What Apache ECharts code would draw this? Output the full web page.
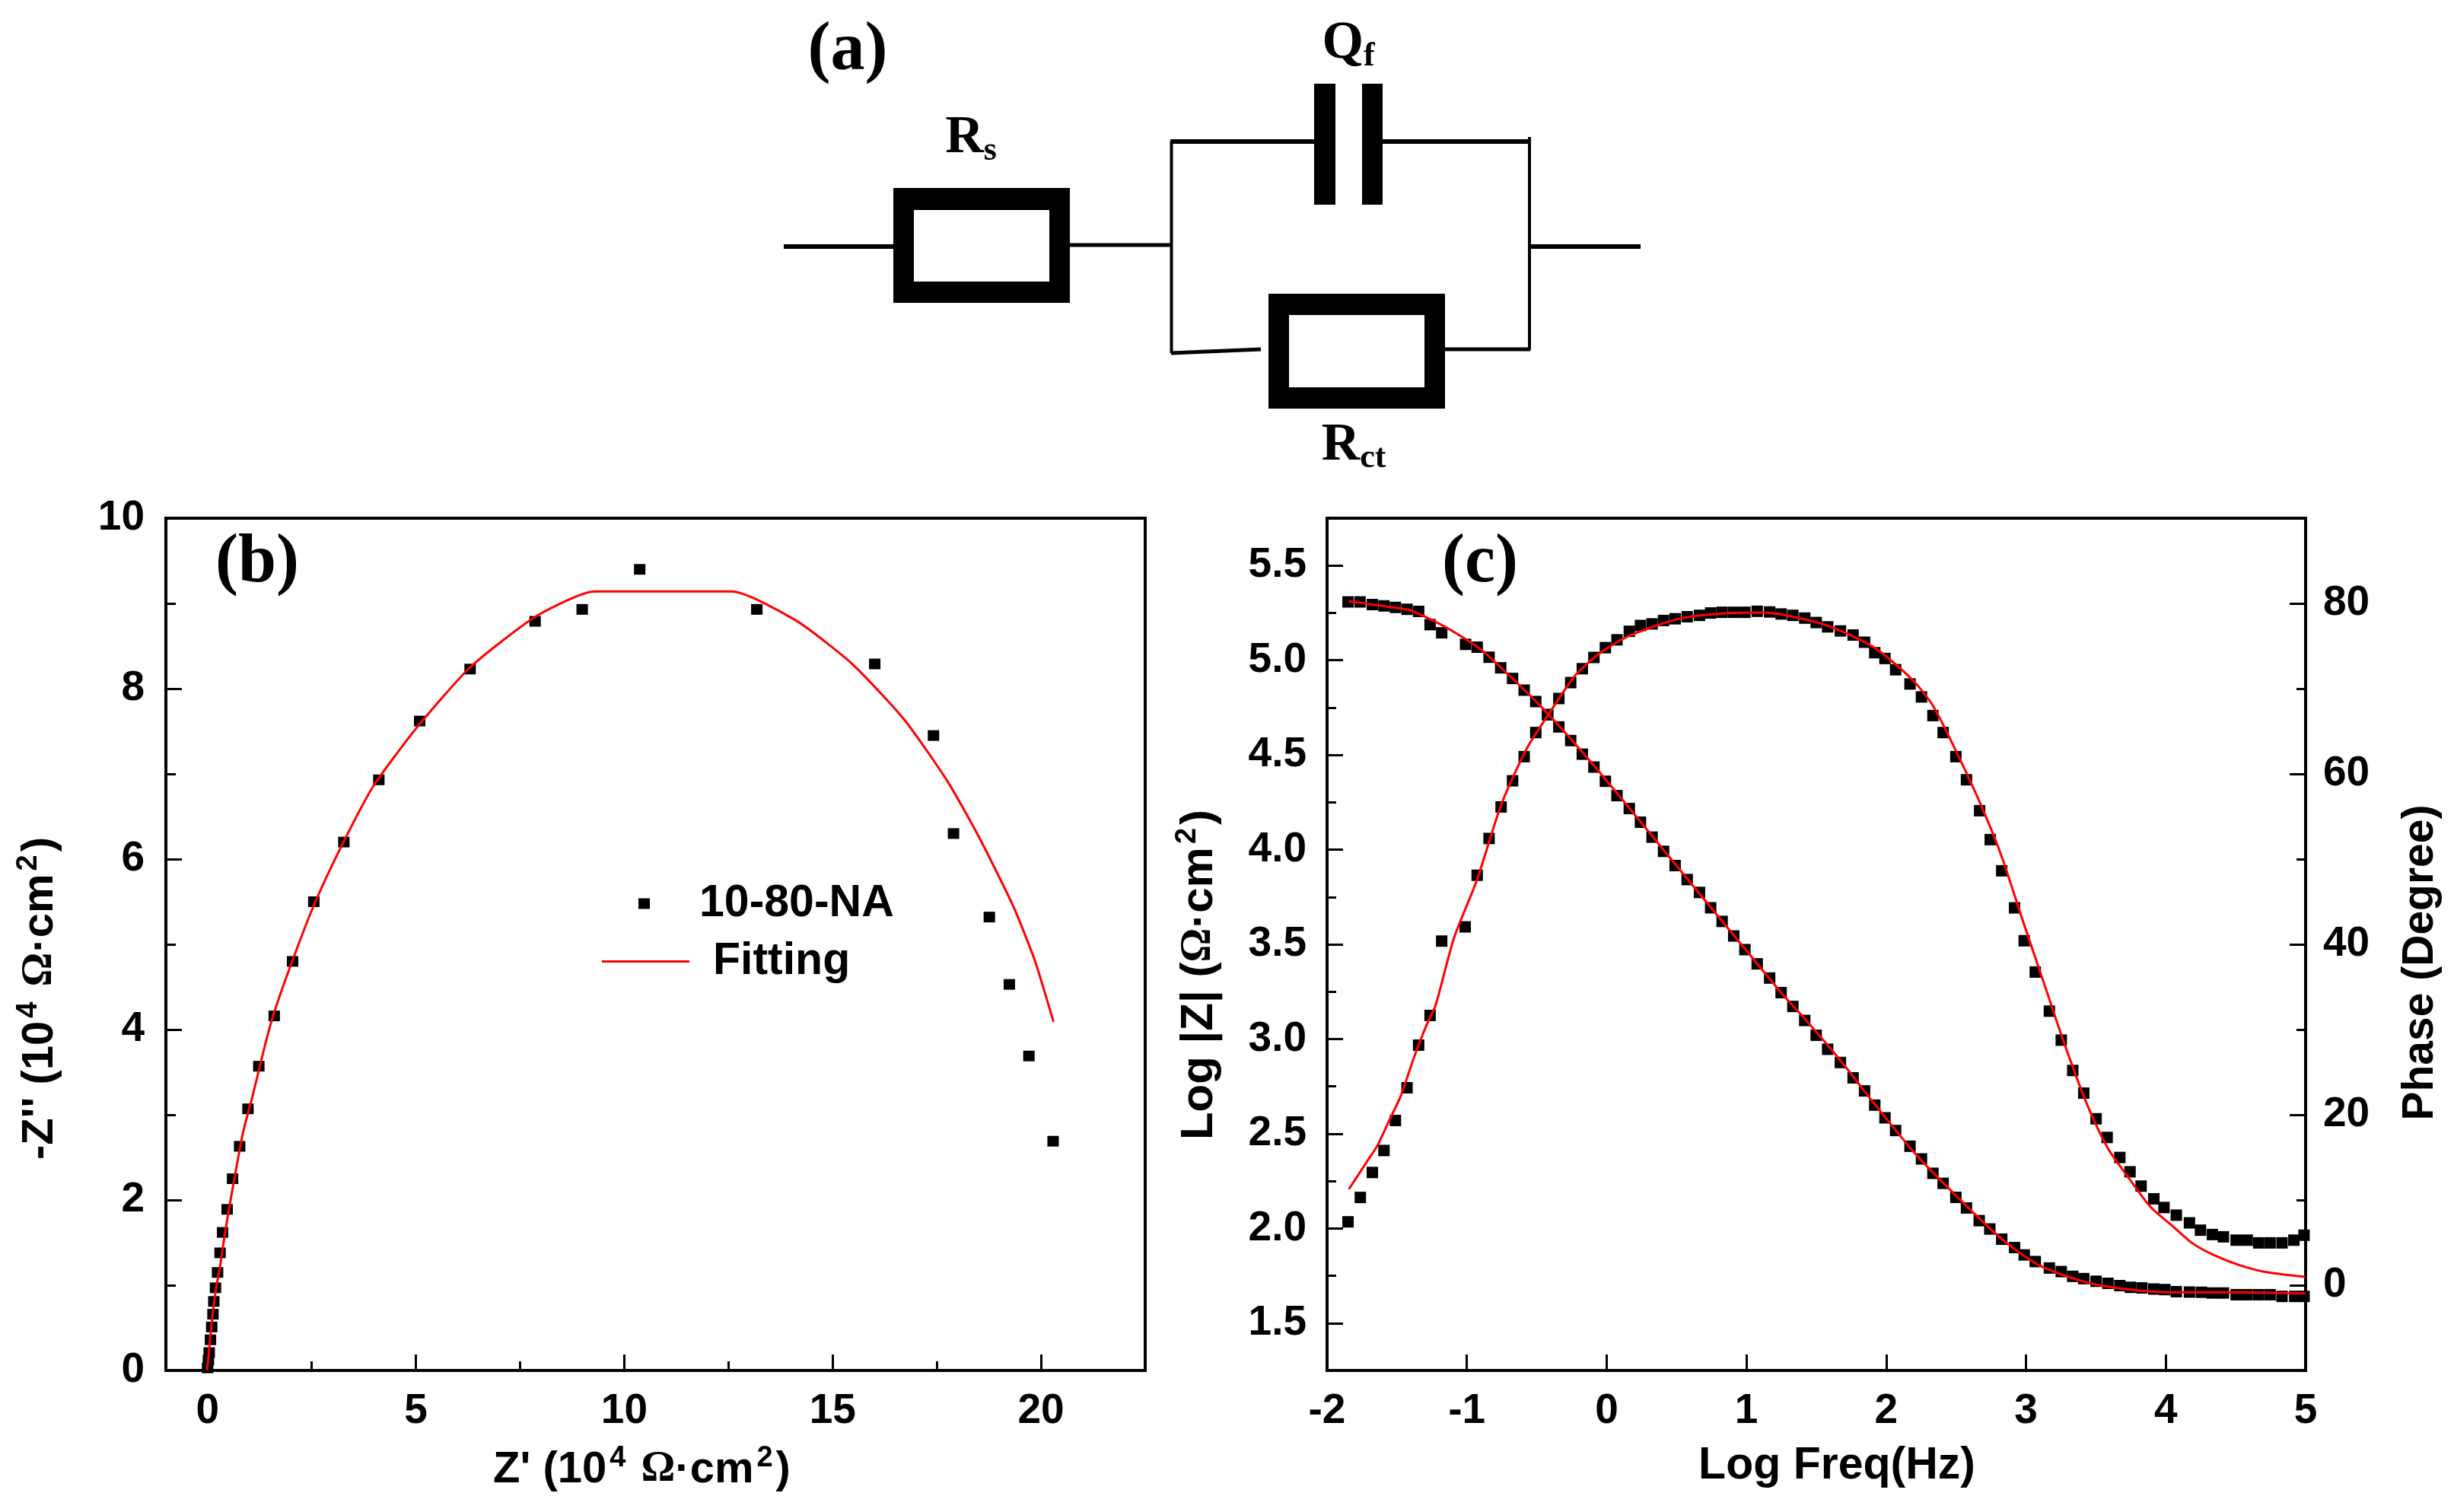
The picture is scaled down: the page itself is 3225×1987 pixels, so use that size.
<!DOCTYPE html>
<html><head><meta charset="utf-8">
<style>html,body{margin:0;padding:0;background:#fff}#c{width:3225px;height:1987px}</style>
<script src="https://cdn.jsdelivr.net/npm/echarts@6/dist/echarts.min.js"></script>
</head><body><div id="c"></div>
<script>
// Panel (b) Nyquist
const nyquistPoints = [[0.0,0.03],[0.02,0.12],[0.04,0.21],[0.07,0.36],[0.10,0.51],[0.13,0.66],[0.15,0.81],[0.19,0.97],[0.24,1.15],[0.30,1.38],[0.36,1.62],[0.47,1.89],[0.60,2.25],[0.77,2.63],[0.97,3.07],[1.23,3.57],[1.60,4.16],[2.04,4.80],[2.55,5.50],[3.27,6.20],[4.11,6.93],[5.09,7.62],[6.30,8.23],[7.86,8.79],[8.99,8.93],[10.37,9.40],[13.18,8.93],[16.01,8.29],[17.42,7.45],[17.90,6.30],[18.76,5.32],[19.24,4.53],[19.71,3.69],[20.29,2.69]];
const nyquistFit = [[-0.01,0],[0.10,0.56],[0.20,0.95],[0.30,1.22],[0.43,1.65],[0.61,2.16],[0.85,2.79],[1.08,3.22],[1.36,3.78],[1.59,4.19],[2.06,4.84],[2.57,5.48],[3.18,6.12],[3.97,6.85],[5.0,7.53],[6.30,8.25],[7.89,8.85],[9.29,9.14],[12.58,9.14],[14.12,8.80],[15.47,8.29],[16.73,7.63],[17.76,6.91],[18.50,6.27],[19.34,5.44],[19.86,4.80],[20.18,4.29],[20.3,4.09]];
// Panel (c) Bode
const logZPoints = [[-1.850,5.308],[-1.764,5.308],[-1.676,5.294],[-1.593,5.287],[-1.511,5.279],[-1.428,5.269],[-1.345,5.258],[-1.263,5.188],[-1.180,5.145],[-1.009,5.084],[-0.926,5.069],[-0.841,5.016],[-0.758,4.960],[-0.673,4.904],[-0.590,4.842],[-0.507,4.782],[-0.422,4.712],[-0.342,4.648],[-0.257,4.576],[-0.174,4.504],[-0.091,4.436],[-0.009,4.361],[0.074,4.285],[0.162,4.217],[0.242,4.145],[0.325,4.066],[0.407,3.991],[0.490,3.916],[0.576,3.842],[0.664,3.774],[0.744,3.693],[0.826,3.621],[0.909,3.544],[0.989,3.472],[1.077,3.397],[1.166,3.322],[1.248,3.245],[1.332,3.172],[1.417,3.098],[1.499,3.020],[1.581,2.946],[1.672,2.876],[1.763,2.795],[1.845,2.726],[1.918,2.651],[1.991,2.584],[2.067,2.517],[2.170,2.434],[2.252,2.367],[2.334,2.291],[2.407,2.238],[2.498,2.164],[2.574,2.108],[2.665,2.041],[2.741,1.997],[2.826,1.943],[2.918,1.899],[2.987,1.860],[3.066,1.825],[3.167,1.791],[3.252,1.772],[3.334,1.747],[3.413,1.735],[3.501,1.721],[3.586,1.710],[3.671,1.698],[3.747,1.689],[3.829,1.686],[3.914,1.680],[3.993,1.677],[4.075,1.666],[4.169,1.664],[4.254,1.663],[4.333,1.659],[4.412,1.659],[4.503,1.650],[4.582,1.650],[4.664,1.650],[4.746,1.650],[4.831,1.641],[4.922,1.641],[4.989,1.641]];
const logZFit = [[-1.844,5.312],[-1.549,5.281],[-1.401,5.263],[-1.195,5.192],[-1.047,5.129],[-0.90,5.057],[-0.752,4.958],[-0.457,4.746],[-0.074,4.429],[0.517,3.900],[1.248,3.245],[1.417,3.107],[1.672,2.887],[1.915,2.658],[2.219,2.385],[2.523,2.156],[2.826,1.944],[3.10,1.803],[3.434,1.715],[3.738,1.677],[4.04,1.663],[4.406,1.663],[4.998,1.657]];
const phasePoints = [[-1.850,7.44],[-1.762,10.30],[-1.676,13.23],[-1.593,15.81],[-1.511,19.33],[-1.428,23.17],[-1.345,28.17],[-1.263,31.66],[-1.180,40.38],[-1.012,42.05],[-0.926,48.11],[-0.841,52.42],[-0.755,56.12],[-0.673,59.19],[-0.590,62.02],[-0.507,64.85],[-0.422,66.96],[-0.342,68.84],[-0.257,70.71],[-0.174,72.34],[-0.091,73.66],[-0.009,74.81],[0.074,75.73],[0.162,76.73],[0.242,77.41],[0.325,77.60],[0.407,78.00],[0.490,78.20],[0.576,78.44],[0.664,78.60],[0.744,78.88],[0.826,78.96],[0.909,78.96],[0.989,78.96],[1.077,79.08],[1.166,79.0],[1.248,78.76],[1.332,78.60],[1.417,78.28],[1.499,77.76],[1.581,77.25],[1.672,76.77],[1.763,76.29],[1.845,75.45],[1.918,74.22],[1.991,73.54],[2.067,72.22],[2.170,70.55],[2.252,69.03],[2.334,66.84],[2.407,64.85],[2.498,62.02],[2.574,59.31],[2.668,55.68],[2.744,52.29],[2.826,48.63],[2.918,44.28],[2.987,40.42],[3.066,36.75],[3.167,32.16],[3.252,28.76],[3.334,25.20],[3.413,22.54],[3.501,19.53],[3.580,17.34],[3.671,14.99],[3.744,13.31],[3.823,11.63],[3.914,10.14],[3.987,9.12],[4.075,8.22],[4.169,7.32],[4.248,6.46],[4.333,5.95],[4.412,5.68],[4.503,5.29],[4.582,5.29],[4.664,4.97],[4.746,4.97],[4.831,4.97],[4.916,5.29],[4.989,5.87]];
const phaseFit = [[-1.844,11.27],[-1.711,14.60],[-1.638,16.44],[-1.549,19.57],[-1.475,22.11],[-1.372,27.0],[-1.283,30.72],[-1.224,32.84],[-1.092,40.74],[-0.929,47.51],[-0.752,56.48],[-0.575,62.86],[-0.413,67.04],[-0.221,71.63],[-0.044,74.22],[0.163,76.21],[0.517,78.2],[0.812,78.8],[1.107,78.92],[1.284,78.6],[1.581,77.4],[1.915,74.81],[2.188,71.03],[2.340,67.84],[2.523,61.86],[2.674,56.48],[2.826,50.30],[2.978,42.73],[3.145,34.63],[3.282,27.98],[3.434,21.33],[3.586,16.05],[3.738,12.52],[3.89,9.20],[4.041,7.05],[4.193,4.90],[4.345,3.53],[4.527,2.35],[4.71,1.57],[4.998,0.98]];
// Tick lists
const bXMajor = [0,5,10,15,20];
const bXMinor = [2.5,7.5,12.5,17.5];
const cLeftMajor = [1.5,2.0,2.5,3.0,3.5,4.0,4.5,5.0,5.5];
const cLeftMinor = [1.75,2.25,2.75,3.25,3.75,4.25,4.75,5.25];
const cRightMajor = [0,20,40,60,80];
const cRightMinor = [10,30,50,70];

const SANS = '"Liberation Sans"', SERIF = '"Liberation Serif"';
const tickLabel = {fontFamily:SANS,fontWeight:'bold',fontSize:55,color:'#000'};
const nameStyle = extra => Object.assign({fontFamily:SANS,fontWeight:'bold',fontSize:58,color:'#000',lineHeight:80,
  rich:{sup:{fontFamily:SANS,fontWeight:'bold',fontSize:38,color:'#000',padding:[0,4,30,4]},
        om:{fontFamily:SERIF,fontWeight:'bold',fontSize:56,color:'#000'}}},extra);
const line = {show:true,onZero:false,lineStyle:{color:'#000',width:4}};
const major = {show:true,inside:true,length:21,lineStyle:{color:'#000',width:3}};
const minor = {show:true,inside:true,length:12,lineStyle:{color:'#000',width:3}};
const overlay = (base,vals) => Object.assign({},base,{
  axisLine:{show:false,onZero:false},axisLabel:{show:false},splitLine:{show:false},
  axisTick:Object.assign({},minor,{customValues:vals})});

const bX = {type:'value',gridIndex:0,min:-1,max:22.5,position:'bottom'};
const cLeft = {type:'value',gridIndex:1,min:1.25,max:5.75,position:'left'};
const cRight = {type:'value',gridIndex:1,min:-10,max:90,position:'right'};
const scatterItem = {color:'#000',opacity:1};

const option = {
  animation:false,backgroundColor:'#fff',
  grid:[
    {left:218,top:681,width:1287,height:1120,show:true,borderColor:'#000',borderWidth:4,backgroundColor:'transparent',outerBoundsMode:'none'},
    {left:1744,top:681,width:1286,height:1120,show:true,borderColor:'#000',borderWidth:4,backgroundColor:'transparent',outerBoundsMode:'none'}
  ],
  legend:[
    {data:['10-80-NA'],left:834,top:1153,itemWidth:15,itemHeight:14,icon:'rect',selectedMode:false,
     textStyle:{fontFamily:SANS,fontWeight:'bold',fontSize:59,color:'#000',padding:[0,0,0,60]}},
    {data:['Fitting'],left:786,top:1229,itemWidth:115,itemHeight:3,icon:'rect',selectedMode:false,
     textStyle:{fontFamily:SANS,fontWeight:'bold',fontSize:59,color:'#000',padding:[0,0,0,26]}}
  ],
  xAxis:[
    Object.assign({},bX,{name:"Z' (10{sup|4} {om|Ω}·cm{sup|2})",nameLocation:'middle',nameGap:91,
      nameTextStyle:nameStyle({padding:[0,36,0,0]}),
      axisLine:line,axisTick:Object.assign({},major,{customValues:bXMajor}),
      axisLabel:Object.assign({},tickLabel,{margin:26,customValues:bXMajor}),splitLine:{show:false}}),
    overlay(bX,bXMinor),
    {type:'value',gridIndex:1,min:-2,max:5,interval:1,position:'bottom',name:'Log Freq(Hz)',nameLocation:'middle',nameGap:78,
      nameTextStyle:nameStyle({fontSize:59,padding:[0,0,0,54]}),axisLine:line,axisTick:major,
      axisLabel:Object.assign({},tickLabel,{margin:26}),splitLine:{show:false}}
  ],
  yAxis:[
    {type:'value',gridIndex:0,min:0,max:10,interval:2,position:'left',name:"-Z'' (10{sup|4} {om|Ω}·cm{sup|2})",nameLocation:'middle',nameGap:125,
      nameTextStyle:nameStyle({padding:[0,142,0,0]}),axisLine:line,axisTick:major,
      minorTick:{show:true,splitNumber:2,length:13,lineStyle:{color:'#000',width:3}},
      axisLabel:Object.assign({},tickLabel,{margin:28}),splitLine:{show:false},minorSplitLine:{show:false}},
    Object.assign({},cLeft,{name:'Log |Z| ({om|Ω}·cm{sup|2})',nameLocation:'middle',nameGap:128,
      nameTextStyle:nameStyle({fontSize:60,padding:[0,80,0,0]}),axisLine:line,
      axisTick:Object.assign({},major,{customValues:cLeftMajor}),
      axisLabel:Object.assign({},tickLabel,{margin:27,customValues:cLeftMajor,formatter:v=>v.toFixed(1)}),splitLine:{show:false}}),
    Object.assign({},cRight,{name:'Phase (Degree)',nameLocation:'middle',nameGap:111,nameRotate:90,
      nameTextStyle:nameStyle({fontSize:57,padding:[0,48,0,0]}),axisLine:line,
      axisTick:Object.assign({},major,{customValues:cRightMajor}),
      axisLabel:Object.assign({},tickLabel,{margin:23,customValues:cRightMajor}),splitLine:{show:false}}),
    overlay(cLeft,cLeftMinor),
    overlay(cRight,cRightMinor)
  ],
  series:[
    {name:'10-80-NA',type:'scatter',xAxisIndex:0,yAxisIndex:0,data:nyquistPoints,symbol:'rect',symbolSize:[15,14],itemStyle:scatterItem,z:2},
    {name:'Fitting',type:'line',xAxisIndex:0,yAxisIndex:0,data:nyquistFit,symbol:'none',smooth:0.2,lineStyle:{color:'#f00',width:3},itemStyle:{color:'#f00'},z:3},
    {name:'Log |Z|',type:'scatter',xAxisIndex:2,yAxisIndex:1,data:logZPoints,symbol:'rect',symbolSize:[15,15],itemStyle:scatterItem,z:2},
    {name:'Phase',type:'scatter',xAxisIndex:2,yAxisIndex:2,data:phasePoints,symbol:'rect',symbolSize:[15,15],itemStyle:scatterItem,z:2},
    {name:'Log |Z| fit',type:'line',xAxisIndex:2,yAxisIndex:1,data:logZFit,symbol:'none',smooth:0.25,lineStyle:{color:'#f00',width:3},z:3},
    {name:'Phase fit',type:'line',xAxisIndex:2,yAxisIndex:2,data:phaseFit,symbol:'none',smooth:0.25,lineStyle:{color:'#f00',width:3},z:3}
  ],
  graphic:[]
};

// Circuit diagram (a) and panel letters: decoration in page pixels
const G = option.graphic;
const seg = (x1,y1,x2,y2,w) => G.push({type:'line',shape:{x1,y1,x2,y2},style:{stroke:'#000',lineWidth:w}});
const box = (x,y,w,h,fill) => G.push({type:'rect',shape:{x,y,width:w,height:h},style:{fill}});
seg(1030,324,1175,324,6); seg(1406,322,1540,322,5);
box(1174,247,232,151,'#000'); box(1201,276,178,94,'#fff');
seg(1539.5,186,1539.5,464,4); seg(1538,186,1727,186,6);
box(1727,110,28,159,'#000'); box(1790,110,27,159,'#000');
seg(1817,186,2011,186,6); seg(2010,180,2010,460,4); seg(2010,324,2156,324,6);
seg(1539,464,1657,459,5); seg(1899,459,2011,459,5);
box(1667,386,232,151,'#000'); box(1694,414,178,95,'#fff');
const serifLabel = (text,x,y,size) => G.push({type:'text',x,y,style:{text,fontFamily:SERIF,fontWeight:'bold',fontSize:size,fill:'#000',align:'center',verticalAlign:'middle'}});
serifLabel('(a)',1114,68,90); serifLabel('(b)',338,741,90); serifLabel('(c)',1945,741,90);
const subLabel = (a,b,x,y) => G.push({type:'text',x,y,style:{text:`{m|${a}}{s|${b}}`,align:'center',verticalAlign:'middle',
  rich:{m:{fontFamily:SERIF,fontWeight:'bold',fontSize:70,fill:'#000'},s:{fontFamily:SERIF,fontWeight:'bold',fontSize:44,fill:'#000',padding:[34,0,0,0]}}}});
subLabel('R','s',1276,182); subLabel('Q','f',1772,58); subLabel('R','ct',1779,586);

const chart = echarts.init(document.getElementById('c'),null,{renderer:'canvas',width:3225,height:1987});
chart.setOption(option);
</script></body></html>
